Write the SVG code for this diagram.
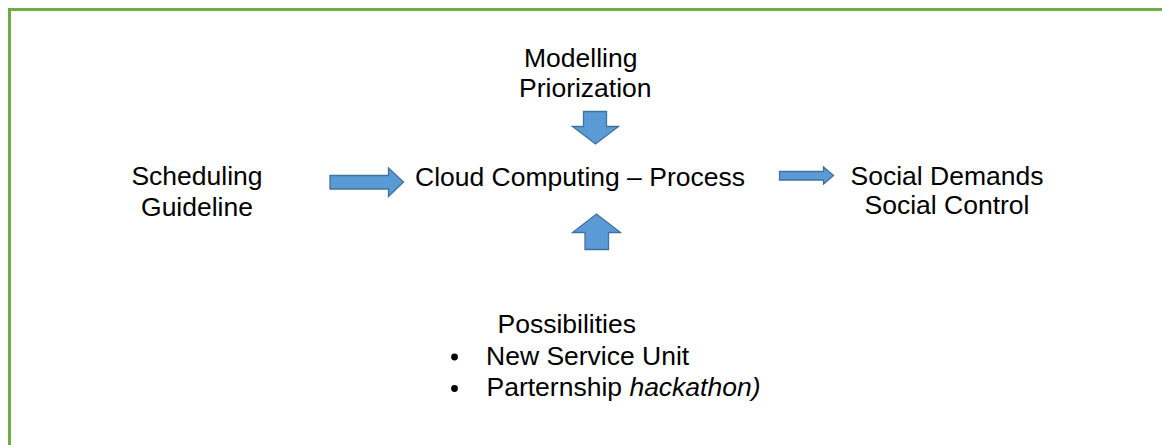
<svg xmlns="http://www.w3.org/2000/svg" width="1162" height="445" viewBox="0 0 1162 445">
<style>
.t{font-family:"Liberation Sans",Arial,sans-serif;font-size:26.5px;fill:#000}
.ar{fill:#5B9BD5;stroke:#41719C;stroke-width:1.3}
</style>
<rect x="0" y="0" width="1162" height="445" fill="#fff"/>
<rect x="9.5" y="9.5" width="1170" height="460" fill="none" stroke="#70AD47" stroke-width="3"/>
<g id="node-modelling">
<text class="t" x="524" y="67">Modelling</text>
<text class="t" x="519" y="97">Priorization</text>
</g>
<g id="node-scheduling">
<text class="t" x="197" y="185" text-anchor="middle">Scheduling</text>
<text class="t" x="197" y="215.5" text-anchor="middle">Guideline</text>
</g>
<g id="node-cloud">
<text class="t" x="415" y="186">Cloud Computing – Process</text>
</g>
<g id="node-social">
<text class="t" x="947" y="184.5" text-anchor="middle">Social Demands</text>
<text class="t" x="947" y="213.5" text-anchor="middle">Social Control</text>
</g>
<g id="node-possibilities">
<text class="t" x="497.5" y="332.5">Possibilities</text>
<circle cx="454.5" cy="357" r="3.4" fill="#000"/>
<text class="t" x="486" y="364.5">New Service Unit</text>
<circle cx="454.5" cy="388.5" r="3.4" fill="#000"/>
<text class="t" x="486.5" y="396">Parternship <tspan font-style="italic">hackathon)</tspan></text>
</g>
<g id="connectors">
<path class="ar" d="M330,175.5 H388.5 V168 L403.5,182 L388.5,196.5 V189 H330 Z"/>
<path class="ar" d="M779.5,171.5 H823.5 V167 L833.5,175.5 L823.5,184 V180 H779.5 Z"/>
<path class="ar" d="M583.5,111.5 H606.5 V126.5 H618.5 L595.5,144 L572.5,126.5 H583.5 Z"/>
<path class="ar" d="M585,249.5 H608.5 V232.5 H620.5 L596.5,214 L572.5,232.5 H585 Z"/>
</g>
</svg>
